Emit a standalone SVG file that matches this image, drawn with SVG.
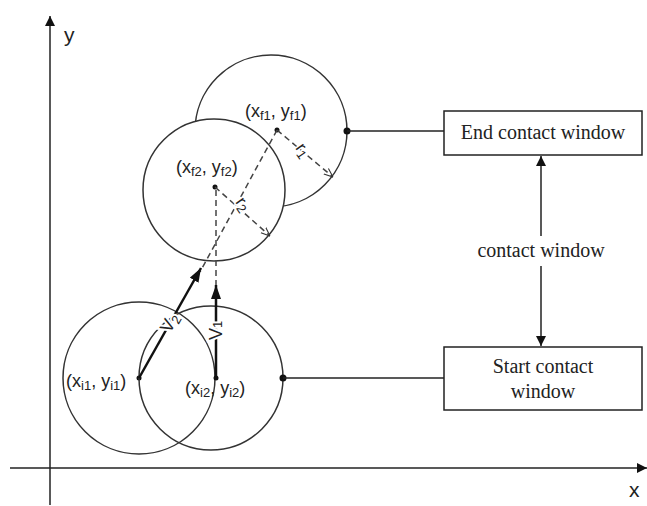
<svg xmlns="http://www.w3.org/2000/svg" width="647" height="506" viewBox="0 0 647 506">
<defs>
<marker id="ah" viewBox="0 0 10 10" refX="10" refY="5" markerWidth="10" markerHeight="10" markerUnits="userSpaceOnUse" orient="auto-start-reverse"><path d="M0,0 L10,5 L0,10 z" fill="#111"/></marker>
<marker id="big" viewBox="0 0 14 10" refX="14" refY="5" markerWidth="14" markerHeight="10" markerUnits="userSpaceOnUse" orient="auto"><path d="M0,0 L14,5 L0,10 z" fill="#111"/></marker>
<marker id="open" viewBox="0 0 10 10" refX="10" refY="5" markerWidth="9" markerHeight="9" markerUnits="userSpaceOnUse" orient="auto"><path d="M0,1 L10,5 L0,9" fill="none" stroke="#333" stroke-width="1.2"/></marker>
</defs>
<style>
.c{fill:none;stroke:#333;stroke-width:1.5}
.ln{stroke:#222;stroke-width:1.5;fill:none}
.dash{stroke:#444;stroke-width:1.5;stroke-dasharray:6 4;fill:none}
.lab{font-family:"Liberation Sans",Arial,sans-serif;font-size:18px;fill:#222}
.sub{font-size:13px}
.ser{font-family:"Liberation Serif","Times New Roman",serif;font-size:20px;fill:#222;text-anchor:middle}
.box{fill:#fff;stroke:#222;stroke-width:1.5}
.dot{fill:#111}
</style>
<rect width="647" height="506" fill="#fff"/>
<g id="axes">
<line x1="50" y1="505" x2="50" y2="16" class="ln" marker-end="url(#ah)"/>
<line x1="10" y1="468" x2="647" y2="468" class="ln" marker-end="url(#ah)"/>
<text x="64" y="42" class="lab" style="font-size:21px">y</text>
<text x="629" y="497" class="lab" style="font-size:21px">x</text>
</g>
<g id="circle-f1">
<circle cx="271" cy="131" r="76" class="c" style="fill:#fff"/>
<circle cx="277" cy="130" r="2.5" class="dot"/>
<circle cx="347" cy="131" r="3.5" class="dot"/>
<text x="245" y="117" class="lab">(x<tspan class="sub" dy="3">f1</tspan><tspan dy="-3">, y</tspan><tspan class="sub" dy="3">f1</tspan><tspan dy="-3">)</tspan></text>
</g>
<g id="circle-f2">
<circle cx="214" cy="190" r="71" class="c" style="fill:#fff"/>
<circle cx="215" cy="187" r="2.5" class="dot"/>
<text x="176" y="173" class="lab">(x<tspan class="sub" dy="3">f2</tspan><tspan dy="-3">, y</tspan><tspan class="sub" dy="3">f2</tspan><tspan dy="-3">)</tspan></text>
</g>
<g id="circle-i1">
<circle cx="139" cy="378" r="76" class="c"/>
<circle cx="139" cy="378" r="2.5" class="dot"/>
<text x="66" y="387" class="lab">(x<tspan class="sub" dy="3">i1</tspan><tspan dy="-3">, y</tspan><tspan class="sub" dy="3">i1</tspan><tspan dy="-3">)</tspan></text>
</g>
<g id="circle-i2">
<circle cx="211" cy="378" r="72" class="c"/>
<circle cx="216" cy="378" r="2.5" class="dot"/>
<circle cx="283" cy="378" r="3.5" class="dot"/>
<text x="185" y="394" class="lab">(x<tspan class="sub" dy="3">i2</tspan><tspan dy="-3">, y</tspan><tspan class="sub" dy="3">i2</tspan><tspan dy="-3">)</tspan></text>
</g>
<g id="end-box">
<rect x="444" y="111" width="198" height="44" class="box"/>
<text x="543" y="139" class="ser">End contact window</text>
</g>
<g id="start-box">
<rect x="444" y="347" width="198" height="63" class="box"/>
<text x="543" y="373" class="ser">Start contact</text>
<text x="543" y="398" class="ser">window</text>
</g>
<g id="connectors">
<line x1="216" y1="190" x2="216" y2="300" class="dash"/>
<line x1="277" y1="130" x2="200" y2="272" class="dash"/>
<line x1="277" y1="130" x2="333" y2="177" class="dash" marker-end="url(#open)"/>
<line x1="215" y1="187" x2="270" y2="236" class="dash" marker-end="url(#open)"/>
<text transform="translate(295,148) rotate(55)" class="lab" style="font-size:17px;stroke:#fff;stroke-width:3;paint-order:stroke">r<tspan class="sub" dy="3">1</tspan></text>
<text transform="translate(235,202) rotate(55)" class="lab" style="font-size:17px;stroke:#fff;stroke-width:3;paint-order:stroke">r<tspan class="sub" dy="3">2</tspan></text>
<line x1="139" y1="378" x2="201" y2="268" stroke="#111" stroke-width="2.5" marker-end="url(#big)"/>
<line x1="216" y1="378" x2="216" y2="285" stroke="#111" stroke-width="2.5" marker-end="url(#big)"/>
<text transform="translate(222,340) rotate(-90)" class="lab" style="stroke:#fff;stroke-width:4;paint-order:stroke">V<tspan class="sub">1</tspan></text>
<text transform="translate(170,334) rotate(-61)" class="lab" style="stroke:#fff;stroke-width:4;paint-order:stroke">V<tspan class="sub" dy="3">2</tspan></text>
<line x1="347" y1="131" x2="444" y2="131" class="ln"/>
<line x1="283" y1="378" x2="444" y2="378" class="ln"/>
<line x1="541" y1="236" x2="541" y2="156" class="ln" marker-end="url(#ah)"/>
<line x1="541" y1="266" x2="541" y2="346" class="ln" marker-end="url(#ah)"/>
<text x="541" y="257" class="ser">contact window</text>
</g>
</svg>
